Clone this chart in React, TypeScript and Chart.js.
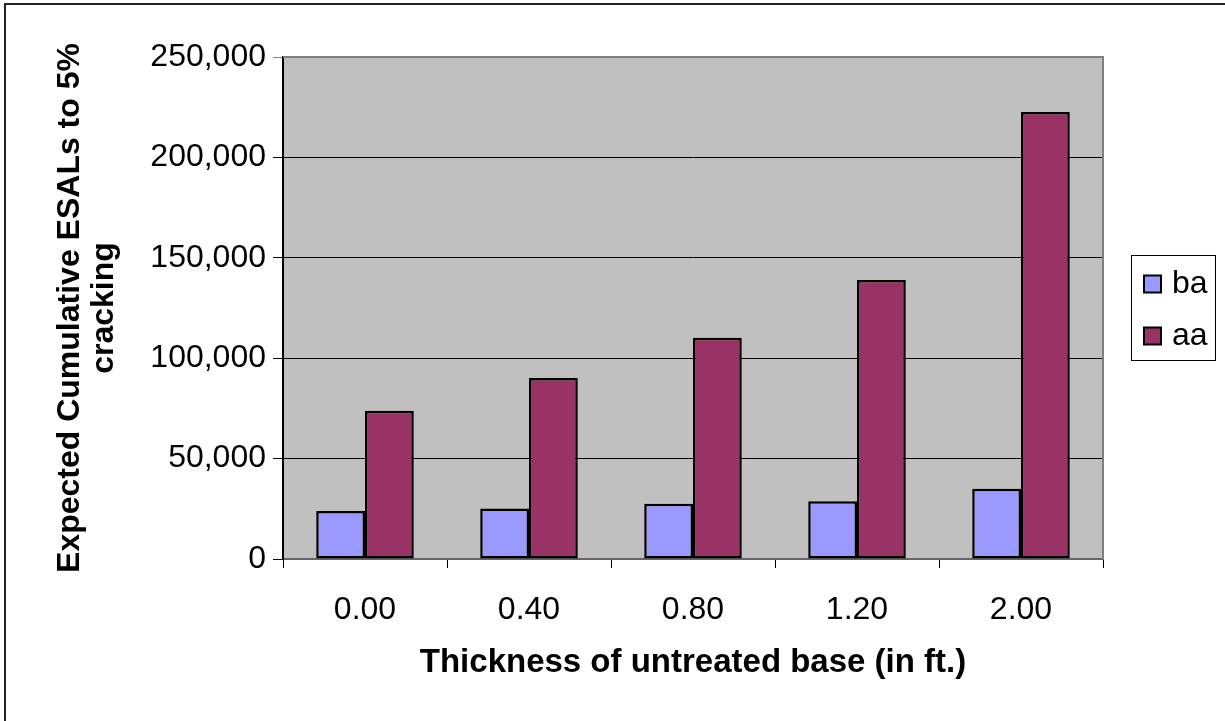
import React, { useEffect, useRef } from "react";
import { Chart, registerables } from "chart.js";

Chart.register(...registerables);

const categories = ["0.00", "0.40", "0.80", "1.20", "2.00"];
const baValues = [23900, 25200, 27500, 28700, 35000];
const aaValues = [73800, 90100, 110200, 139000, 222600];
const seriesNames = ["ba", "aa"];
const yTicks = [0, 50000, 100000, 150000, 200000, 250000];
const xTitle = "Thickness of untreated base (in ft.)";
const yTitle = ["Expected Cumulative ESALs to 5%", "cracking"];

const FONT = "'Liberation Sans', Arial, sans-serif";
const BA_COLOR = "#9999FF";
const AA_COLOR = "#993366";

const framePlugin = {
  id: "framePlugin",
  beforeDraw(chart: any) {
    const { ctx, chartArea } = chart;
    ctx.save();
    ctx.fillStyle = "#ffffff";
    ctx.fillRect(0, 0, chart.width, chart.height);
    ctx.strokeStyle = "#222";
    ctx.lineWidth = 2;
    ctx.beginPath();
    ctx.moveTo(5, chart.height);
    ctx.lineTo(5, 4);
    ctx.lineTo(chart.width, 4);
    ctx.stroke();
    ctx.fillStyle = "#C0C0C0";
    ctx.fillRect(chartArea.left, chartArea.top, chartArea.right - chartArea.left, chartArea.bottom - chartArea.top);
    ctx.restore();
  },
  afterDraw(chart: any) {
    const { ctx, chartArea } = chart;
    ctx.save();
    ctx.strokeStyle = "#808080";
    ctx.lineWidth = 2;
    ctx.beginPath();
    ctx.moveTo(chartArea.left, chartArea.top);
    ctx.lineTo(chartArea.right, chartArea.top);
    ctx.lineTo(chartArea.right, chartArea.bottom);
    ctx.stroke();

    const lx = 1131.5, ly = 255.5, lw = 84, lh = 105;
    ctx.fillStyle = "#ffffff";
    ctx.fillRect(lx, ly, lw, lh);
    ctx.strokeStyle = "#000";
    ctx.lineWidth = 1;
    ctx.strokeRect(lx, ly, lw, lh);
    const ds = chart.data.datasets;
    const ys = [284, 336];
    ds.forEach((d: any, i: number) => {
      const y = ys[i];
      ctx.fillStyle = d.backgroundColor;
      ctx.fillRect(1144, y - 8.5, 17, 17);
      ctx.strokeStyle = "#000";
      ctx.lineWidth = 2;
      ctx.strokeRect(1144, y - 8.5, 17, 17);
      ctx.fillStyle = "#000";
      ctx.font = `32px ${FONT}`;
      ctx.textBaseline = "middle";
      ctx.textAlign = "left";
      ctx.fillText(d.label, 1172, y);
    });
    ctx.restore();
  },
};

export default function App() {
  const ref = useRef<HTMLCanvasElement | null>(null);
  useEffect(() => {
    document.body.style.margin = "0";
    if (!ref.current) return;
    const chart = new Chart(ref.current, {
      type: "bar",
      data: {
        labels: categories,
        datasets: [
          {
            label: seriesNames[0],
            data: baValues,
            backgroundColor: BA_COLOR,
            borderColor: "#000",
            borderWidth: 2.5,
            borderSkipped: false,
          },
          {
            label: seriesNames[1],
            data: aaValues,
            backgroundColor: AA_COLOR,
            borderColor: "#000",
            borderWidth: 2.5,
            borderSkipped: false,
          },
        ],
      },
      options: {
        responsive: false,
        animation: false,
        events: [],
        layout: { padding: { left: 0, top: 57, right: 122, bottom: 0 } },
        datasets: { bar: { categoryPercentage: 0.595, barPercentage: 1 } },
        plugins: { legend: { display: false }, tooltip: { enabled: false } },
        scales: {
          x: {
            afterFit(scale: any) {
              scale.height = 162;
            },
            grid: {
              offset: true,
              drawOnChartArea: false,
              drawTicks: true,
              tickLength: 9,
              color: "#000",
              lineWidth: 1,
            },
            border: { color: "#666", width: 2 },
            ticks: {
              color: "#000",
              font: { family: FONT, size: 32 },
              padding: 23,
            },
            title: {
              display: true,
              text: xTitle,
              color: "#000",
              font: { family: FONT, size: 33, weight: "bold" },
              padding: { top: 0, bottom: 38 },
            },
          },
          y: {
            min: 0,
            max: 250000,
            afterFit(scale: any) {
              scale.width = 283;
            },
            afterBuildTicks(scale: any) {
              scale.ticks = yTicks.map((v) => ({ value: v }));
            },
            grid: {
              color: (c: any) => (c.tick && c.tick.value === 250000 ? "#808080" : "#000"),
              lineWidth: 1,
              tickLength: 10,
              drawTicks: true,
            },
            border: { color: "#000", width: 2 },
            ticks: {
              color: "#000",
              font: { family: FONT, size: 32 },
              padding: 7,
              callback: (v: any) => Number(v).toLocaleString("en-US"),
            },
            title: {
              display: true,
              text: yTitle,
              color: "#000",
              font: { family: FONT, size: 32, weight: "bold", lineHeight: "34px" },
              padding: { top: 53, bottom: 0 },
            },
          },
        },
      },
      plugins: [framePlugin],
    });
    return () => chart.destroy();
  }, []);
  return (
    <div style={{ position: "absolute", left: 0, top: 0, width: 1225, height: 721 }}>
      <canvas ref={ref} width={1225} height={721} style={{ display: "block" }} />
    </div>
  );
}
